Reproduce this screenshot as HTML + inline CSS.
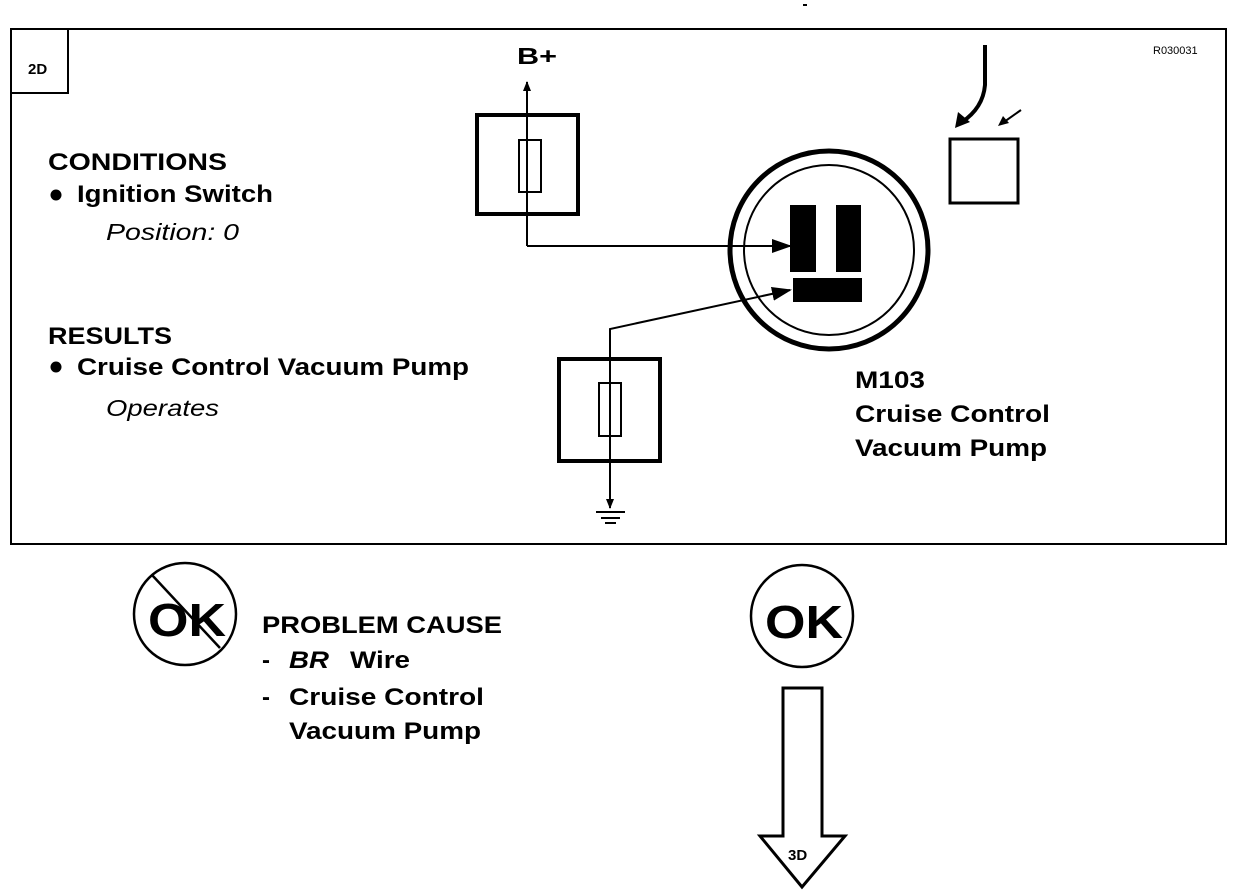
<!DOCTYPE html>
<html><head><meta charset="utf-8"><style>
html,body{margin:0;padding:0;background:#fff;}
svg{display:block;}
text{font-family:"Liberation Sans",Arial,sans-serif;fill:#000;}
</style></head><body>
<svg width="1248" height="896" viewBox="0 0 1248 896" xmlns="http://www.w3.org/2000/svg">
<defs>
<marker id="ah" markerWidth="10" markerHeight="8" refX="9" refY="4" orient="auto" markerUnits="userSpaceOnUse"><path d="M0,0 L10,4 L0,8 Z" fill="#000"/></marker>
<marker id="ahs" markerWidth="20" markerHeight="14" refX="18" refY="7" orient="auto" markerUnits="userSpaceOnUse"><path d="M0,0 L20,7 L0,14 Z" fill="#000"/></marker>
</defs>
<rect x="0" y="0" width="1248" height="896" fill="#fff"/>
<rect x="11" y="29" width="1215" height="515" fill="none" stroke="#000" stroke-width="2"/>
<rect x="11" y="29" width="57" height="64" fill="none" stroke="#000" stroke-width="2"/>
<text x="28" y="74" font-size="15" font-weight="bold">2D</text>
<text x="1153" y="54" font-size="11">R030031</text>
<line x1="803" y1="5" x2="807" y2="5" stroke="#000" stroke-width="2"/>

<g font-weight="bold" font-size="24">
<text x="48" y="170" textLength="179" lengthAdjust="spacingAndGlyphs">CONDITIONS</text>
<text x="77" y="202" textLength="196" lengthAdjust="spacingAndGlyphs">Ignition Switch</text>
<text x="48" y="344" textLength="124" lengthAdjust="spacingAndGlyphs">RESULTS</text>
<text x="77" y="375" textLength="392" lengthAdjust="spacingAndGlyphs">Cruise Control Vacuum Pump</text>
</g>
<circle cx="56" cy="195" r="5.5" fill="#000"/>
<circle cx="56" cy="367" r="5.5" fill="#000"/>
<text x="106" y="240" font-size="23" font-style="italic" textLength="133" lengthAdjust="spacingAndGlyphs">Position: 0</text>
<text x="106" y="416" font-size="23" font-style="italic" textLength="113" lengthAdjust="spacingAndGlyphs">Operates</text>

<text x="517" y="64" font-size="23" font-weight="bold" textLength="40" lengthAdjust="spacingAndGlyphs">B+</text>
<rect x="477" y="115" width="101" height="99" fill="none" stroke="#000" stroke-width="4"/>
<rect x="519" y="140" width="22" height="52" fill="#fff" stroke="#000" stroke-width="2"/>
<line x1="527" y1="246" x2="527" y2="82" stroke="#000" stroke-width="2" marker-end="url(#ah)"/>
<line x1="527" y1="140" x2="527" y2="192" stroke="#000" stroke-width="2"/>
<polyline points="527,246 790,246" fill="none" stroke="#000" stroke-width="2" marker-end="url(#ahs)"/>

<circle cx="829" cy="250" r="99" fill="none" stroke="#000" stroke-width="5"/>
<circle cx="829" cy="250" r="85" fill="none" stroke="#000" stroke-width="2"/>
<rect x="790" y="205" width="26" height="67" fill="#000"/>
<rect x="836" y="205" width="25" height="67" fill="#000"/>
<rect x="793" y="278" width="69" height="24" fill="#000"/>

<polyline points="610,500 610,329 790,290" fill="none" stroke="#000" stroke-width="2" marker-end="url(#ahs)"/>
<rect x="559" y="359" width="101" height="102" fill="none" stroke="#000" stroke-width="4"/>
<rect x="599" y="383" width="22" height="53" fill="#fff" stroke="#000" stroke-width="2"/>
<line x1="610" y1="383" x2="610" y2="436" stroke="#000" stroke-width="2"/>
<line x1="610" y1="436" x2="610" y2="508" stroke="#000" stroke-width="2" marker-end="url(#ah)"/>
<line x1="596" y1="512" x2="625" y2="512" stroke="#000" stroke-width="2"/>
<line x1="601" y1="518" x2="620" y2="518" stroke="#000" stroke-width="2"/>
<line x1="605" y1="523" x2="616" y2="523" stroke="#000" stroke-width="2"/>

<path d="M985,45 L985,85 Q983,108 962,122" fill="none" stroke="#000" stroke-width="4"/>
<path d="M955,128 L958,112 L970,122 Z" fill="#000"/>
<line x1="1021" y1="110" x2="1004" y2="122" stroke="#000" stroke-width="2"/>
<path d="M998,126 L1003,116 L1009,123 Z" fill="#000"/>
<rect x="950" y="139" width="68" height="64" fill="none" stroke="#000" stroke-width="3"/>

<g font-weight="bold" font-size="24">
<text x="855" y="388" textLength="70" lengthAdjust="spacingAndGlyphs">M103</text>
<text x="855" y="422" textLength="195" lengthAdjust="spacingAndGlyphs">Cruise Control</text>
<text x="855" y="456" textLength="192" lengthAdjust="spacingAndGlyphs">Vacuum Pump</text>
<text x="262" y="633" textLength="240" lengthAdjust="spacingAndGlyphs">PROBLEM CAUSE</text>
<text x="262" y="668">-</text>
<text x="289" y="668" font-style="italic" textLength="40" lengthAdjust="spacingAndGlyphs">BR</text>
<text x="350" y="668" textLength="60" lengthAdjust="spacingAndGlyphs">Wire</text>
<text x="262" y="705">-</text>
<text x="289" y="705" textLength="195" lengthAdjust="spacingAndGlyphs">Cruise Control</text>
<text x="289" y="739" textLength="192" lengthAdjust="spacingAndGlyphs">Vacuum Pump</text>
</g>

<circle cx="185" cy="614" r="51" fill="none" stroke="#000" stroke-width="2.5"/>
<line x1="152" y1="575" x2="220" y2="648" stroke="#000" stroke-width="2.5"/>
<text x="148" y="636" font-size="46" font-weight="bold" textLength="78" lengthAdjust="spacingAndGlyphs">OK</text>

<circle cx="802" cy="616" r="51" fill="none" stroke="#000" stroke-width="2.5"/>
<text x="765" y="638" font-size="46" font-weight="bold" textLength="78" lengthAdjust="spacingAndGlyphs">OK</text>
<path d="M783,688 L822,688 L822,836 L845,836 L802,887 L760,836 L783,836 Z" fill="#fff" stroke="#000" stroke-width="3"/>
<text x="788" y="860" font-size="15" font-weight="bold">3D</text>
</svg>
</body></html>
